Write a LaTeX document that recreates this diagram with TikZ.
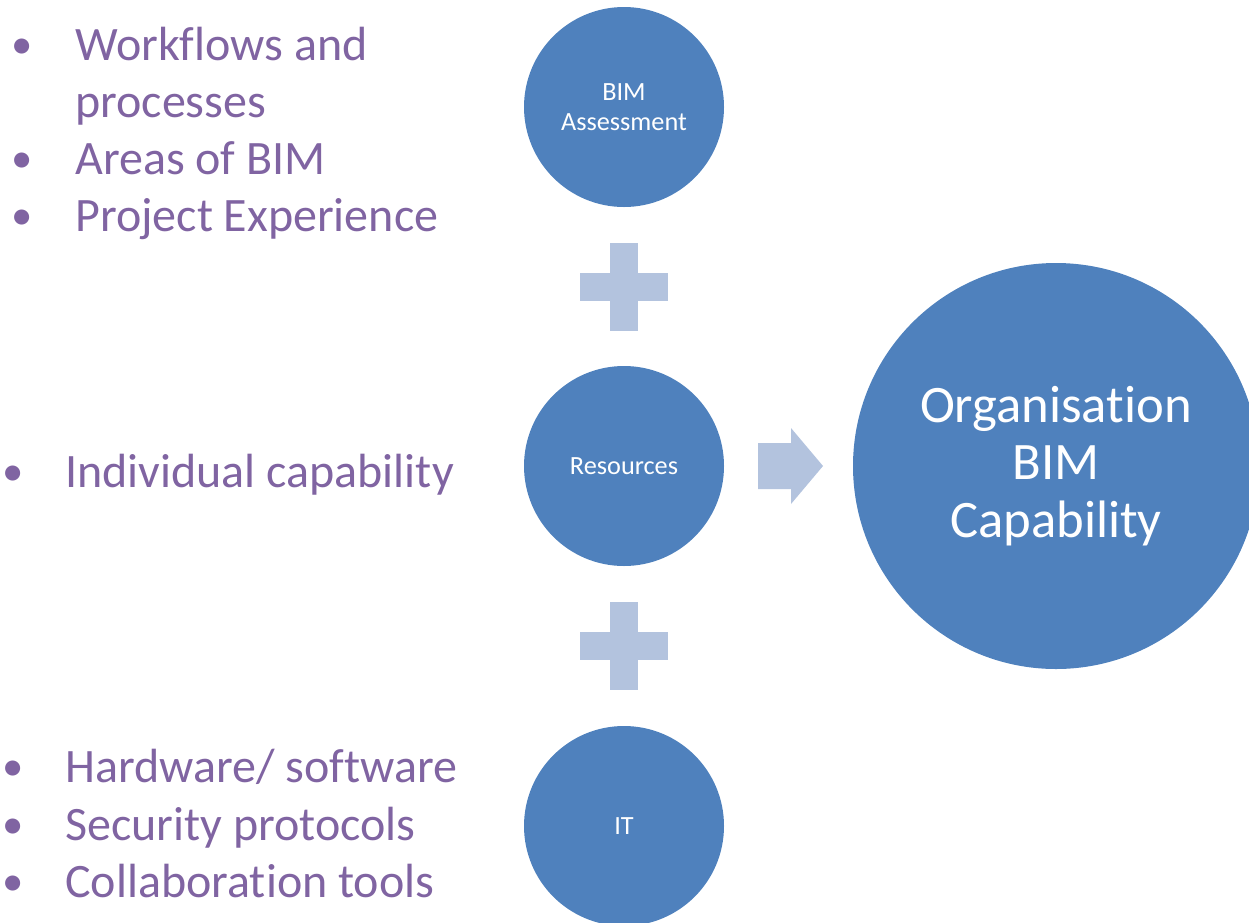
\documentclass[tikz,border=0pt]{standalone}
\usepackage{fontspec}
\setmainfont[Ligatures=NoCommon]{Carlito}
\usepackage{tikz}
\usetikzlibrary{positioning,calc}

\definecolor{bimblue}{RGB}{79,129,189}
\definecolor{bimpurple}{RGB}{128,100,162}
\definecolor{bimlight}{RGB}{179,195,222}

\tikzset{
  bigtext/.style={font=\fontsize{36pt}{43pt}\selectfont},
  item/.style={bigtext, text=bimpurple, inner sep=0pt, anchor=base west},
  dot/.style={font=\fontsize{32pt}{43pt}\selectfont, text=bimpurple, inner sep=0pt, anchor=base, yshift=1.5pt},
  blob/.style={circle, fill=bimblue, text=white, inner sep=0pt, minimum size=150pt, align=center,
    font=\fontsize{19.7pt}{22.5pt}\selectfont},
  bigblob/.style={circle, fill=bimblue, text=white, inner sep=0pt, minimum size=304.5pt, align=center,
    font=\fontsize{39.5pt}{43.2pt}\selectfont}
}

\begin{document}
\begin{tikzpicture}[x=0.75pt,y=0.75pt,yscale=-1,xscale=1]
\useasboundingbox (0,0) rectangle (1249,922);

% Circles
\node [blob] (assess) at (624,107) {BIM\\Assessment};
\node [blob] (res) at (624,466) {Resources};
\node [blob] (it) at (624,826) {IT};
\node [bigblob] (org) at (1056,466) {Organisation\\BIM\\Capability};

% Plus signs
\coordinate (plusa) at ($(assess)!0.5!(res)$);
\coordinate (plusb) at ($(res)!0.5!(it)$);
\fill [bimlight] ([xshift=-10.5pt,yshift=33pt]plusa) rectangle ([xshift=10.5pt,yshift=-33pt]plusa);
\fill [bimlight] ([xshift=-33pt,yshift=10.5pt]plusa) rectangle ([xshift=33pt,yshift=-10.5pt]plusa);
\fill [bimlight] ([xshift=-10.5pt,yshift=33pt]plusb) rectangle ([xshift=10.5pt,yshift=-33pt]plusb);
\fill [bimlight] ([xshift=-33pt,yshift=10.5pt]plusb) rectangle ([xshift=33pt,yshift=-10.5pt]plusb);

% Block arrow
\coordinate (arr) at (758,466);
\fill [bimlight] (arr) ++(0,-23) -- ++(33,0) -- ++(0,-15) -- ++(32,38) -- ++(-32,38) -- ++(0,-15) -- ++(-33,0) -- cycle;

% Text Node
\node [dot] (d1) at (22,60) {•};
\node [item] (t1) at (75,60) {Workflows and};
\node [item] (t2) at (75,117) {processes};
\node [dot] (d3) at (22,174) {•};
\node [item] (t3) at (75,174) {Areas of BIM};
\node [dot] (d4) at (22,231) {•};
\node [item] (t4) at (75,231) {Project Experience};
% Text Node
\node [dot] (d5) at (13,487) {•};
\node [item] (t5) at (65,487) {Individual capability};
% Text Node
\node [dot] (d6) at (13,782) {•};
\node [item] (t6) at (65,782) {Hardware/ software};
\node [dot] (d7) at (13,840) {•};
\node [item] (t7) at (65,840) {Security protocols};
\node [dot] (d8) at (13,897) {•};
\node [item] (t8) at (65,897) {Collaboration tools};
\end{tikzpicture}
\end{document}
